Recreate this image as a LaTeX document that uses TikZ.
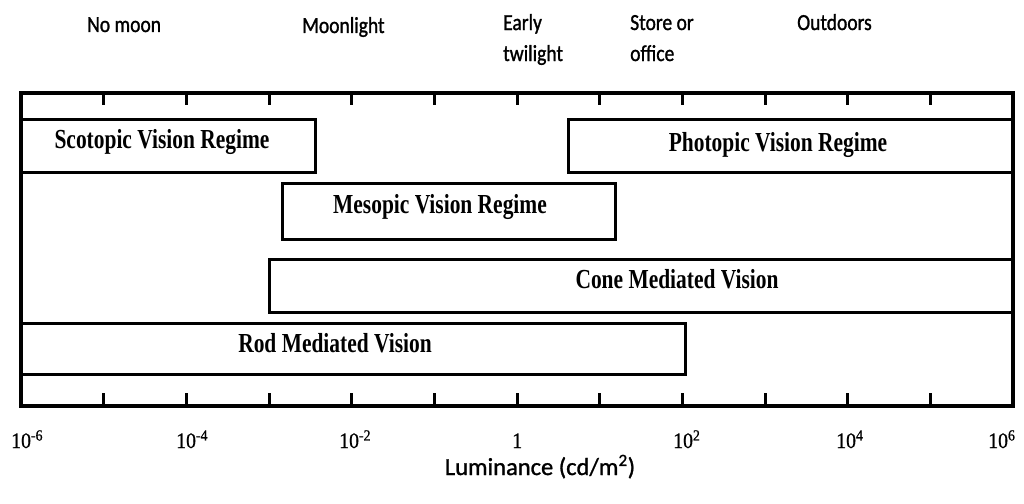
\documentclass[tikz,border=0pt]{standalone}
\usepackage{fontspec}
\usepackage{graphicx}
\newfontfamily\toplab[FakeStretch=0.85,FakeBold=1.2]{Carlito}
\newfontfamily\axlab[FakeBold=1.2]{Carlito}
\newfontfamily\boxfnt[FakeStretch=0.78]{Liberation Serif}
\newfontfamily\tickfnt[FakeStretch=0.9,FakeBold=0.8]{Liberation Serif}
\begin{document}
\begin{tikzpicture}[x=1pt,y=-1pt,
  frameline/.style={line width=4pt, line join=miter},
  regime/.style={draw, line width=3pt, line join=miter},
  tickmark/.style={line width=3pt},
  boxlab/.style={font=\boxfnt\bfseries\fontsize{27.5}{30}\selectfont, inner sep=0pt, anchor=base},
  toplabel/.style={font=\toplab\fontsize{23}{31}\selectfont, inner sep=0pt, anchor=base west, align=left},
  ticklab/.style={font=\tickfnt\fontsize{22}{24}\selectfont, inner sep=0pt, anchor=base west},
  axislab/.style={font=\axlab\fontsize{24.5}{28}\selectfont, inner sep=0pt, anchor=base}]
\useasboundingbox (0,0) rectangle (1024,503);
\fill[white] (0,0) rectangle (1024,503);
% top labels
\node[toplabel] (nomoon) at (87,32) {No moon};
\node[toplabel] (moonl) at (302,33) {Moonlight};
\node[toplabel] (early) at (503,61) {Early\\twilight};
\node[toplabel] (store) at (630,61) {Store or\\office};
\node[toplabel] (outd) at (797,30) {Outdoors};
% ticks
\foreach \i in {1,...,11} {
  \draw[tickmark] ({21+82.667*\i},93) -- ++(0,12);
  \draw[tickmark] ({21+82.667*\i},406) -- ++(0,-13);
}
% frame
\draw[frameline] (21,93) rectangle (1013,406);
% regime boxes
\draw[regime] (21,119) rectangle (315,172);
\node[boxlab] (scot) at (162,148) {Scotopic Vision Regime};
\draw[regime] (568,119) rectangle (1013,172);
\node[boxlab] (phot) at (778,151) {Photopic Vision Regime};
\draw[regime] (282,183) rectangle (615,239);
\node[boxlab] (meso) at (440,213) {Mesopic Vision Regime};
\draw[regime] (269,259) rectangle (1013,312);
\node[boxlab] (cone) at (677,288) {Cone Mediated Vision};
\draw[regime] (21,323) rectangle (685,374);
\node[boxlab] (rod) at (335,352) {Rod Mediated Vision};
% tick labels
\node[ticklab] (tm6) at (11,448) {10\textsuperscript{-6}};
\node[ticklab] (tm4) at (176,448) {10\textsuperscript{-4}};
\node[ticklab] (tm2) at (339,448) {10\textsuperscript{-2}};
\node[ticklab] (t0) at (512,448) {1};
\node[ticklab] (tp2) at (673,448) {10\textsuperscript{2}};
\node[ticklab] (tp4) at (836,448) {10\textsuperscript{4}};
\node[ticklab] (tp6) at (988,448) {10\textsuperscript{6}};
% axis label
\node[axislab] (axis) at (540,475) {Luminance (cd/m\textsuperscript{2})};
\end{tikzpicture}
\end{document}
